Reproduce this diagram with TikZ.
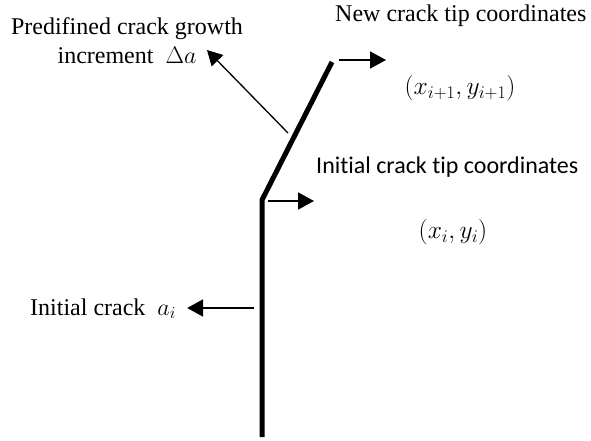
\documentclass[tikz,border=0pt]{standalone}
\usepackage{fix-cm}
\usepackage{fontspec}
\setmainfont{Liberation Serif}
\newfontfamily\tipfont[Ligatures=NoCommon]{Carlito}
\usetikzlibrary{arrows.meta, positioning}

\begin{document}
\begin{tikzpicture}[x=1pt,y=-1pt,
        crack/.style={line width=5pt,line join=miter},
        pointer/.style={-{Triangle[length=16pt,width=17pt]},line width=1.8pt},
        slimpointer/.style={-{Triangle[length=15pt,width=16pt]},line width=1.3pt},
        lbl/.style={font=\fontsize{24}{29}\selectfont,inner sep=0pt},
        mathlbl/.style={font=\fontsize{25.5}{30}\selectfont,inner sep=0pt}
      ]
        \useasboundingbox (0,0) rectangle (591,441);
        % crack path
        \coordinate (crackbot) at (262,437);
        \coordinate (kink) at (262,200);
        \coordinate (newtip) at (332,62);
        \draw[crack] (crackbot) -- (kink) -- (newtip);
        % labels
        \node[lbl,align=center] (inclbl) at (127,41)
          {Predifined crack growth\\increment~~$\Delta a$};
        \node[lbl,anchor=base west] (newlbl) at (335,22) {New crack tip coordinates};
        \node[mathlbl] (newxy) at (460,88) {$(x_{i+1},y_{i+1})$};
        \node[lbl,anchor=base west,font=\tipfont\fontsize{24}{29}\selectfont]
          (initlbl) at (316,173) {Ini\kern0pt tial crack t\kern0pt ip coordinates};
        \node[mathlbl] (initxy) at (453,232) {$(x_i,y_i)$};
        \node[lbl,anchor=base west] (cracklbl) at (30,315) {Initial crack~~$a_i$};
        % pointers
        \coordinate (incfrom) at (288,133);
        \coordinate (incto) at (207,50);
        \draw[slimpointer] (incfrom) -- (incto);
        \coordinate (newfrom) at (339,60);
        \coordinate (newto) at (386,60);
        \draw[pointer] (newfrom) -- (newto);
        \coordinate (initfrom) at (268,201);
        \coordinate (initto) at (314,201);
        \draw[pointer] (initfrom) -- (initto);
        \coordinate (crackfrom) at (254,308);
        \draw[pointer] (crackfrom) -- ([xshift=11pt]cracklbl.east |- crackfrom);
      \end{tikzpicture}
\end{document}
